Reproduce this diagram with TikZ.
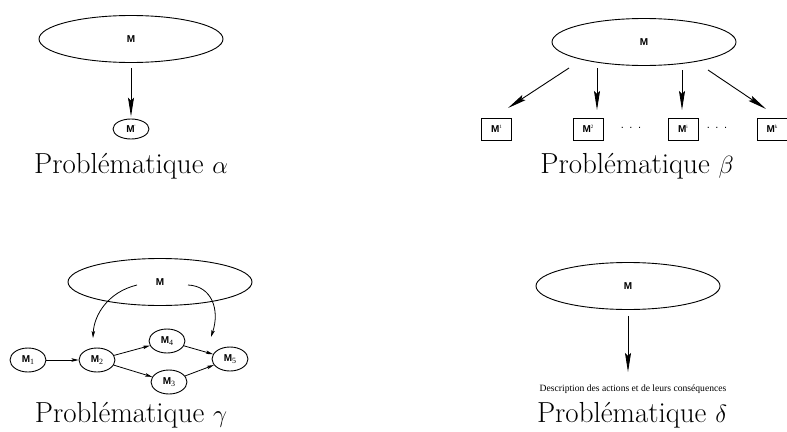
\documentclass[tikz,border=0pt]{standalone}
\usepackage{fontspec}
\usetikzlibrary{arrows.meta,shapes.geometric}
\newfontfamily\helv{Liberation Sans}
\newfontfamily\tms{Liberation Serif}
\tikzset{
  mfont/.style={font=\helv\bfseries\fontsize{10}{11}\selectfont},
  big/.style={draw,ellipse,line width=0.9pt,minimum width=184pt,minimum height=47pt,inner sep=0pt,mfont},
  small/.style={draw,ellipse,line width=0.9pt,minimum width=36pt,minimum height=24pt,inner sep=0pt,mfont},
  boxm/.style={draw,rectangle,line width=0.9pt,minimum width=30pt,minimum height=22pt,inner sep=0pt,mfont},
  captxt/.style={font=\fontsize{29}{33}\selectfont,anchor=base,inner sep=0pt},
  arr/.style={line width=0.9pt,-{Stealth[length=19pt,width=6pt,inset=3pt]}},
  sarr/.style={line width=0.8pt,-{Stealth[length=7pt,width=3.5pt,inset=1.5pt]}},
  dots/.style={font=\helv\fontsize{11}{11}\selectfont,inner sep=0pt}
}
\newcommand{\tsup}[1]{\raisebox{4pt}{\tms\mdseries\fontsize{5}{5}\selectfont #1}}
\newcommand{\tsub}[1]{\raisebox{-2.5pt}{\tms\mdseries\fontsize{8}{8}\selectfont #1}}
\begin{document}
\begin{tikzpicture}[x=1pt,y=-1pt]
\useasboundingbox (0,0) rectangle (787,431);
% alpha
\node[big] (a0) at (131,39) {M};
\node[small,minimum height=20pt] (a1) at (131,129) {M\tsup{'}};
\draw[arr,shorten <=5pt,shorten >=2pt] (a0) -- (a1);
\node[captxt] (ca) at (131,173) {Problématique $\alpha$};
% beta
\node[big] (b0) at (644,42) {M};
\node[boxm] (b1) at (496.5,129) {M\tsup{1}};
\node[boxm] (b2) at (588,129) {M\tsup{2}};
\node[dots] (d1) at (631,128) {.\hspace{5.5pt}.\hspace{5.5pt}.};
\node[boxm] (b3) at (683,129) {M\tsup{i}};
\node[dots] (d2) at (717,128) {.\hspace{5.5pt}.\hspace{5.5pt}.};
\node[boxm] (b4) at (772,129) {M\tsup{k}};
\coordinate (s1) at (569,68); \coordinate (e1) at (508,108);
\coordinate (s2) at (597,68); \coordinate (e2) at (597,110);
\coordinate (s3) at (682,70); \coordinate (e3) at (682,110);
\coordinate (s4) at (708,70); \coordinate (e4) at (766,109);
\draw[arr] (s1) -- (e1);
\draw[arr] (s2) -- (e2);
\draw[arr] (s3) -- (e3);
\draw[arr] (s4) -- (e4);
\node[captxt] (cb) at (637,173) {Problématique $\beta$};
% gamma
\node[big] (g0) at (160,282) {M};
\node[small] (g1) at (28,360) {M\tsub{1}};
\node[small] (g2) at (97,360) {M\tsub{2}};
\node[small] (g4) at (167,341) {M\tsub{4}};
\node[small] (g3) at (169,382) {M\tsub{3}};
\node[small] (g5) at (230,359) {M\tsub{5}};
\draw[sarr] (g1) -- (g2);
\draw[sarr] (g2) -- (g4);
\draw[sarr] (g2) -- (g3);
\draw[sarr] (g4) -- (g5);
\draw[sarr] (g3) -- (g5);
\coordinate (c1s) at (137,285); \coordinate (c1e) at (93,338);
\coordinate (c2s) at (188,285); \coordinate (c2e) at (211,337);
\draw[sarr] (c1s) .. controls (108,292) and (94,315) .. (c1e);
\draw[sarr] (c2s) .. controls (212,286) and (220,310) .. (c2e);
\node[captxt] (cg) at (131,422) {Problématique $\gamma$};
% delta
\node[big] (h0) at (628,286) {M};
\node[font=\tms\fontsize{9.6}{10}\selectfont,inner sep=0pt,anchor=base] (h1) at (633,391) {Description des actions et de leurs conséquences};
\coordinate (h1t) at (628,372);
\draw[arr,shorten <=6pt] (h0) -- (h1t);
\node[captxt] (cd) at (632,422) {Problématique $\delta$};
\end{tikzpicture}
\end{document}
